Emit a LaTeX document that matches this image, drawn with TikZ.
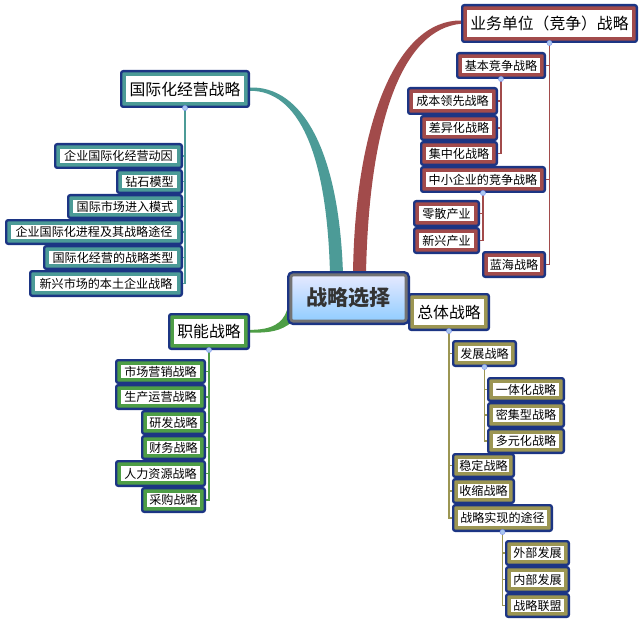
\documentclass[tikz,border=0pt]{standalone}
\usepackage{fontspec}
\setmainfont{Noto Sans CJK SC}
\definecolor{navy}{HTML}{1C3584}
\definecolor{cred}{HTML}{A24B4B}
\definecolor{cteal}{HTML}{4C9B97}
\definecolor{cgreen}{HTML}{4E9E46}
\definecolor{colive}{HTML}{9C9653}
\definecolor{cdot}{HTML}{A9C6EE}
\tikzset{
  x=0.03cm, y=-0.03cm,
  basebox/.style={draw=navy, line width=2pt, rounded corners=1.8pt, fill=white, inner sep=0pt,
    text=black, font=\fontsize{10.3}{12}\selectfont,
    path picture={\draw[#1, line width=8pt] (path picture bounding box.south west) rectangle (path picture bounding box.north east);}},
  rbox/.style={basebox=cred}, tbox/.style={basebox=cteal},
  gbox/.style={basebox=cgreen}, obox/.style={basebox=colive},
  big/.style={font=\fontsize{13.5}{16}\selectfont},
  conn/.style={draw=#1, line width=1.6pt},
  knob/.style={fill=cdot, draw=cdot!70!blue, line width=0.3pt},
}
\newcommand\bx[8][]{\node[#2,minimum width={(#6-#4)*0.03cm-2pt},minimum height={(#7-#5)*0.03cm-2pt},#1] (#3) at ({(#4+#6)/2},{(#5+#7)/2}) {#8};}
\begin{document}
\begin{tikzpicture}
\useasboundingbox[fill=white] (0,0) rectangle (642,621);
% main tapered branches
\fill[cteal] (250,87.5) .. controls (302,86) and (339,150) .. (343,274) -- (330,274) .. controls (327,152) and (298,90.5) .. (250,90.8) -- cycle;
\fill[cred] (353,274) .. controls (355,120) and (398,20) .. (461,20.5) -- (461,23.8) .. controls (403,29) and (369,120) .. (366,274) -- cycle;
\fill[cgreen] (250,329.8) .. controls (272,330) and (283,323) .. (287,310) -- (292,322) .. controls (281,331) and (270,333) .. (250,332.6) -- cycle;
% centre
\node[draw=navy, line width=2pt, rounded corners=4pt, inner sep=0pt,
  top color=blue!8!white, bottom color=blue!45!cyan!45!white,
  minimum width={(410-287)*0.03cm-2pt}, minimum height={(325-271)*0.03cm-2pt},
  path picture={\draw[gray!90!black, line width=7pt, rounded corners=4pt] (path picture bounding box.south west) rectangle (path picture bounding box.north east);},
  font=\fontsize{18}{20}\selectfont\bfseries, text=black!80] (c) at (348.5,298) {战略选择};
% business unit branch
\bx[big]{rbox}{b0}{461}{4}{638}{43}{业务单位（竞争）战略}
\bx{rbox}{b1}{456}{52}{546}{79}{基本竞争战略}
\bx{rbox}{b11}{407}{87}{498}{115}{成本领先战略}
\bx{rbox}{b12}{420}{115}{498}{141}{差异化战略}
\bx{rbox}{b13}{420}{141}{498}{166}{集中化战略}
\bx{rbox}{b2}{420}{166}{546}{193}{中小企业的竞争战略}
\bx{rbox}{b21}{413}{200}{480}{227}{零散产业}
\bx{rbox}{b22}{413}{227}{480}{254}{新兴产业}
\bx{rbox}{b3}{482}{251}{546}{278}{蓝海战略}
\foreach \k in {b1,b2,b3} \draw[conn=cred] (b0.south) |- (\k.east);
\foreach \k in {b11,b12,b13} \draw[conn=cred] (b1.south) |- (\k.east);
\foreach \k in {b21,b22} \draw[conn=cred] (b2.south) |- (\k.east);
% international branch
\bx[big]{tbox}{t0}{120}{70}{250}{108}{国际化经营战略}
\bx{tbox}{t1}{54}{143}{183}{169}{企业国际化经营动因}
\bx{tbox}{t2}{116}{169}{183}{194}{钻石模型}
\bx{tbox}{t3}{67}{194}{183}{219}{国际市场进入模式}
\bx{tbox}{t4}{5}{219}{183}{245}{企业国际化进程及其战略途径}
\bx{tbox}{t5}{43}{245}{183}{270}{国际化经营的战略类型}
\bx{tbox}{t6}{29}{270}{183}{297}{新兴市场的本土企业战略}
\foreach \k in {t1,t2,t3,t4,t5,t6} \draw[conn=cteal] (t0.south) |- (\k.east);
% functional branch
\bx[big]{gbox}{g0}{168}{313}{250}{350}{职能战略}
\bx{gbox}{g1}{115}{359}{206}{384}{市场营销战略}
\bx{gbox}{g2}{115}{384}{206}{410}{生产运营战略}
\bx{gbox}{g3}{141}{410}{206}{435}{研发战略}
\bx{gbox}{g4}{141}{435}{206}{460}{财务战略}
\bx{gbox}{g5}{115}{460}{206}{487}{人力资源战略}
\bx{gbox}{g6}{141}{487}{206}{513}{采购战略}
\foreach \k in {g1,g2,g3,g4,g5,g6} \draw[conn=cgreen] (g0.south) |- (\k.east);
% corporate branch
\bx[big]{obox}{o0}{408}{293}{490}{331}{总体战略}
\bx{obox}{o1}{452}{340}{517}{367}{发展战略}
\bx{obox}{o11}{487}{377}{565}{402}{一体化战略}
\bx{obox}{o12}{487}{402}{565}{428}{密集型战略}
\bx{obox}{o13}{487}{428}{565}{454}{多元化战略}
\bx{obox}{o2}{452}{453}{515}{478}{稳定战略}
\bx{obox}{o3}{452}{478}{515}{504}{收缩战略}
\bx{obox}{o4}{452}{504}{553}{532}{战略实现的途径}
\bx{obox}{o41}{505}{540}{570}{566}{外部发展}
\bx{obox}{o42}{505}{566}{570}{593}{内部发展}
\bx{obox}{o43}{505}{593}{570}{618}{战略联盟}
\foreach \k in {o1,o2,o3,o4} \draw[conn=colive] (o0.south) |- (\k.west);
\foreach \k in {o11,o12,o13} \draw[conn=colive] (o1.south) |- (\k.west);
\foreach \k in {o41,o42,o43} \draw[conn=colive] (o4.south) |- (\k.west);
% knobs
\foreach \k in {b0,b1,b2,t0,g0,o0,o1,o4} \draw[knob] (\k.south) circle (2.6);
\end{tikzpicture}
\end{document}
